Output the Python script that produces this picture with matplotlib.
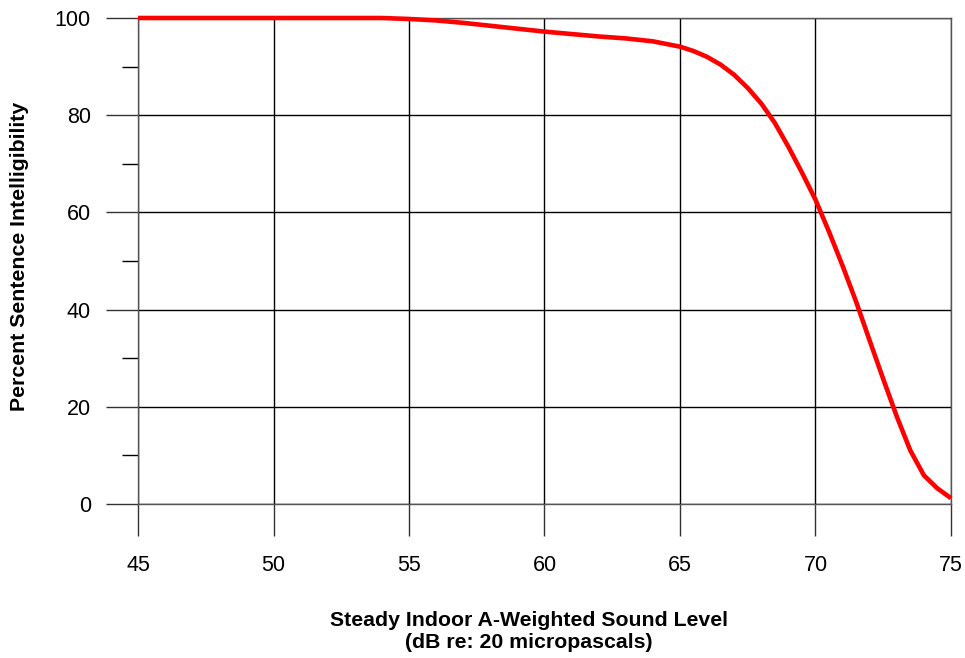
import matplotlib
matplotlib.use('Agg')
import matplotlib.pyplot as plt
from matplotlib.ticker import MultipleLocator

plt.rcParams['font.family'] = ['Liberation Sans', 'DejaVu Sans']

# sound level (dBA) vs percent sentence intelligibility
sound_level = [45, 54, 55, 56, 57, 58, 59, 60, 61, 62, 63, 64, 65, 65.5, 66,
               66.5, 67, 67.5, 68, 68.5, 69, 69.5, 70, 70.5, 71, 71.5, 72,
               72.5, 73, 73.5, 74, 74.5, 75]
intelligibility = [100, 100, 99.8, 99.5, 99.0, 98.4, 97.8, 97.2, 96.7, 96.2,
                   95.8, 95.2, 94.1, 93.2, 92.0, 90.4, 88.3, 85.6, 82.4, 78.4,
                   73.5, 68.2, 62.6, 56.0, 49.0, 41.6, 33.6, 25.7, 18.0, 11.0,
                   5.9, 3.2, 1.2]

x_ticks = [45, 50, 55, 60, 65, 70, 75]
y_ticks = [0, 20, 40, 60, 80, 100]

fig = plt.figure(figsize=(9.65, 6.58), dpi=100)
ax = fig.add_axes([138 / 965, 1 - 504 / 658, (951 - 138) / 965, (504 - 18) / 658])

ax.set_xlim(45, 75)
ax.set_ylim(0, 100)
ax.set_xticks(x_ticks)
ax.set_yticks(y_ticks)
ax.yaxis.set_minor_locator(MultipleLocator(10))

ax.grid(True, which='major', color='black', lw=1)
for s in ax.spines.values():
    s.set_color('#555555')
    s.set_linewidth(1)

ax.tick_params(axis='both', which='major', direction='out', length=23,
               width=1, color='#333333', labelsize=15.5)
ax.tick_params(axis='x', which='major', pad=14)
ax.tick_params(axis='y', which='major', pad=11)
ax.tick_params(axis='y', which='minor', direction='out', length=11.5,
               width=1, color='black')

ax.plot(sound_level, intelligibility, color='#ff0000', lw=3.3, clip_on=False,
        zorder=5, solid_capstyle='butt')

fig.text(529 / 965, 1 - 620 / 658, 'Steady Indoor A-Weighted Sound Level',
         ha='center', va='center', fontsize=15.3, weight='bold')
fig.text(529 / 965, 1 - 643 / 658, '(dB re: 20 micropascals)',
         ha='center', va='center', fontsize=15.3, weight='bold')
fig.text(20 / 965, 1 - 256 / 658, 'Percent Sentence Intelligibility',
         ha='center', va='center', rotation=90, fontsize=15.3, weight='bold')

fig.savefig('out.png', dpi=100, facecolor='white')
